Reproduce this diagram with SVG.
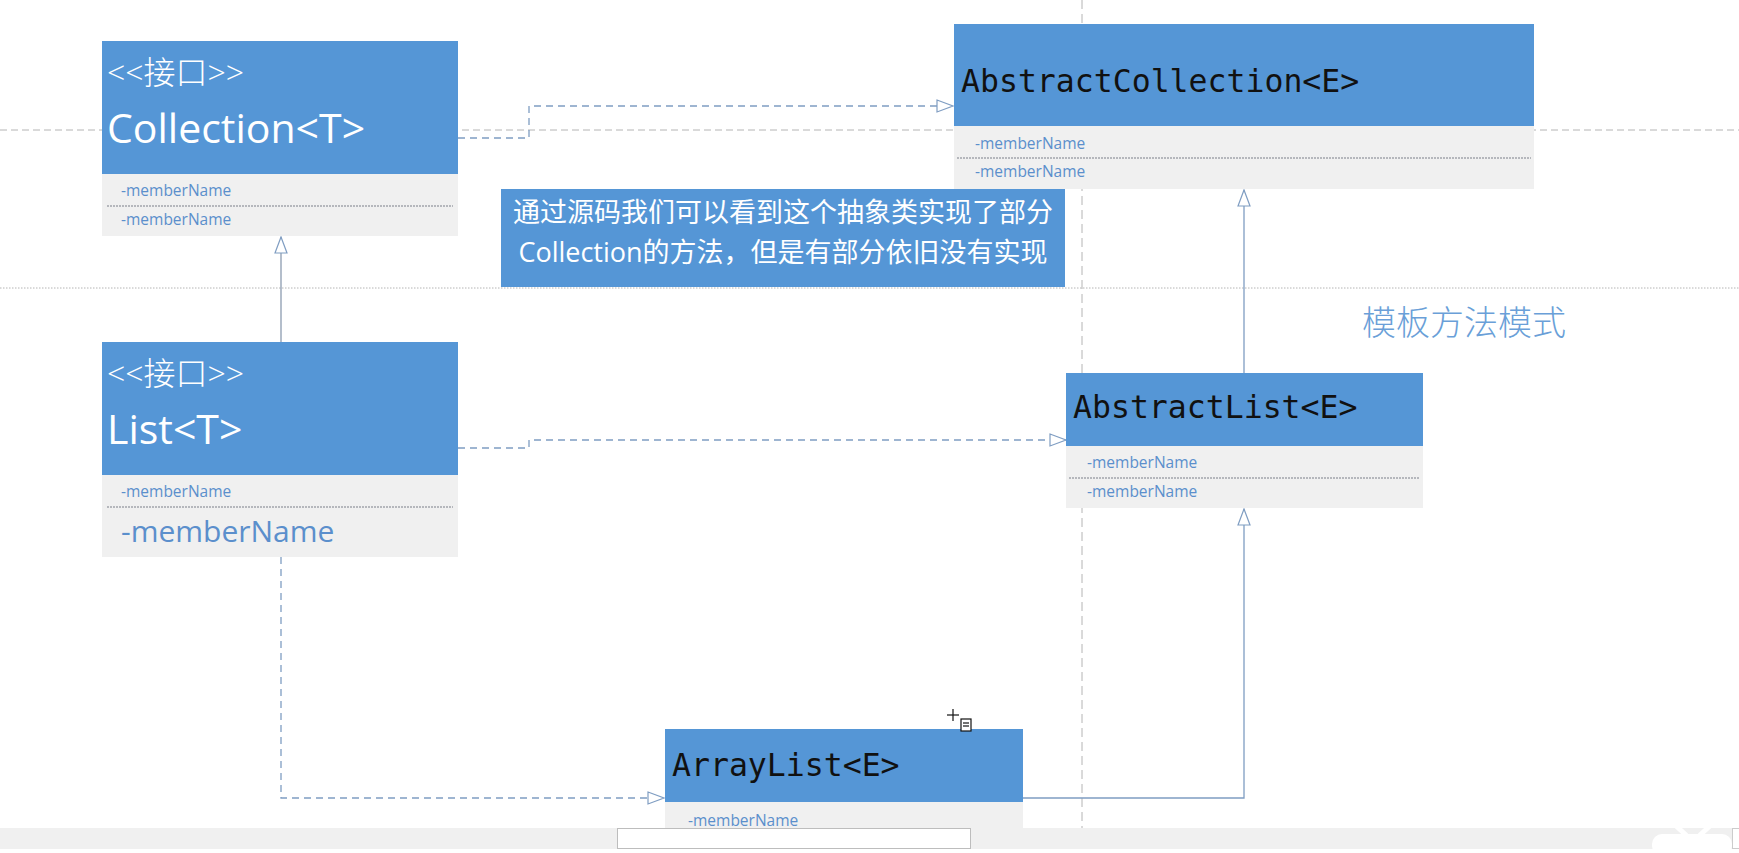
<svg xmlns="http://www.w3.org/2000/svg" width="1739" height="853" viewBox="0 0 1739 853">
<style>
.hdr{fill:#5596d6}
.cmp{fill:#f0f0f0}
.sep{stroke:#7a7f88;stroke-width:1;stroke-dasharray:2 1}
.mem{font-family:"Open Sans","Liberation Sans",sans-serif;font-size:15.5px;fill:#5b8fcc}
.big{font-size:30px}
.ttl{font-family:"Open Sans","Noto Sans CJK SC",sans-serif;font-size:41px;fill:#ffffff}
.ster{font-family:"Open Sans","Noto Sans CJK SC",sans-serif;font-size:32px;font-weight:300;fill:#ffffff}
.mono{font-family:"DejaVu Sans Mono","Liberation Mono",monospace;font-size:31.5px;fill:#111111}
.note{font-family:"Open Sans","Noto Sans CJK SC",sans-serif;font-size:27px;fill:#ffffff;text-anchor:middle}
.dash{fill:none;stroke:#7f9dc2;stroke-width:1.3;stroke-dasharray:7 5}
.solid{fill:none;stroke:#7f9dc2;stroke-width:1.3}
.bg{fill:none;stroke:#b4b4b4;stroke-width:1}
</style>
<defs>
<marker id="tri" markerUnits="userSpaceOnUse" markerWidth="20" markerHeight="16" refX="17" refY="7" orient="auto">
<path d="M1,1 L17,7 L1,13 Z" fill="#ffffff" stroke="#7f9dc2" stroke-width="1.2"/>
</marker>
</defs>
<rect width="1739" height="853" fill="#ffffff"/>
<g id="background">
<line class="bg" x1="0" y1="130" x2="1739" y2="130" stroke-dasharray="7 4"/>
<line class="bg" x1="0" y1="288" x2="1739" y2="288" stroke-dasharray="1.5 1.5"/>
<line class="bg" x1="1082" y1="0" x2="1082" y2="828" stroke-dasharray="9 5"/>
</g>
<g id="connectors">
<polyline class="dash" points="458,138 529,138 529,106 953,106" marker-end="url(#tri)"/>
<polyline class="dash" points="458,448 529,448 529,440 1066,440" marker-end="url(#tri)"/>
<line class="solid" x1="281" y1="342" x2="281" y2="237" style="stroke:#8c9bb0" marker-end="url(#tri)"/>
<polyline class="dash" points="281,557 281,798 664,798" marker-end="url(#tri)"/>
<polyline class="solid" points="1023,798 1244,798 1244,509" marker-end="url(#tri)"/>
<line class="solid" x1="1244" y1="373" x2="1244" y2="190" marker-end="url(#tri)"/>
</g>
<g id="collection">
<rect class="cmp" x="102" y="174" width="356" height="62"/>
<rect class="hdr" x="102" y="41" width="356" height="133"/>
<text class="ster" x="107" y="84">&lt;&lt;接口&gt;&gt;</text>
<text class="ttl" x="107" y="143">Collection&lt;T&gt;</text>
<text class="mem" x="121" y="196">-memberName</text>
<line class="sep" x1="107" y1="206" x2="453" y2="206"/>
<text class="mem" x="121" y="225">-memberName</text>
</g>
<g id="list">
<rect class="cmp" x="102" y="475" width="356" height="82"/>
<rect class="hdr" x="102" y="342" width="356" height="133"/>
<text class="ster" x="107" y="385">&lt;&lt;接口&gt;&gt;</text>
<text class="ttl" x="107" y="444">List&lt;T&gt;</text>
<text class="mem" x="121" y="497">-memberName</text>
<line class="sep" x1="107" y1="507" x2="453" y2="507"/>
<text class="mem big" x="121" y="542">-memberName</text>
</g>
<g id="abstractCollection">
<rect class="cmp" x="954" y="126" width="580" height="63"/>
<rect class="hdr" x="954" y="24" width="580" height="102"/>
<text class="mono" x="961" y="92">AbstractCollection&lt;E&gt;</text>
<text class="mem" x="975" y="149">-memberName</text>
<line class="sep" x1="957" y1="158" x2="1531" y2="158"/>
<text class="mem" x="975" y="177">-memberName</text>
</g>
<g id="note">
<rect class="hdr" x="501" y="189" width="564" height="98"/>
<text class="note" x="783" y="222">通过源码我们可以看到这个抽象类实现了部分</text>
<text class="note" x="783" y="262">Collection的方法，但是有部分依旧没有实现</text>
</g>
<g id="label">
<text x="1362" y="335" font-family="'Noto Sans CJK SC',sans-serif" font-size="34" font-weight="300" fill="#6a9fd8">模板方法模式</text>
</g>
<g id="abstractList">
<rect class="cmp" x="1066" y="446" width="357" height="62"/>
<rect class="hdr" x="1066" y="373" width="357" height="73"/>
<text class="mono" x="1073" y="418">AbstractList&lt;E&gt;</text>
<text class="mem" x="1087" y="468">-memberName</text>
<line class="sep" x1="1069" y1="478" x2="1419" y2="478"/>
<text class="mem" x="1087" y="497">-memberName</text>
</g>
<g id="arrayList">
<rect class="cmp" x="665" y="802" width="358" height="26"/>
<rect class="hdr" x="665" y="729" width="358" height="73"/>
<text class="mono" x="672" y="776">ArrayList&lt;E&gt;</text>
<text class="mem" x="688" y="826">-memberName</text>
</g>
<g id="cursor" stroke="#111111" stroke-width="1.2" fill="none">
<line x1="947" y1="715" x2="959" y2="715"/>
<line x1="953" y1="709" x2="953" y2="721"/>
<rect x="961" y="719" width="10" height="12" fill="#ffffff"/>
<line x1="963" y1="723" x2="969" y2="723"/>
<line x1="963" y1="726" x2="969" y2="726"/>
</g>
<g id="bottombar">
<rect x="0" y="828" width="1739" height="21" fill="#f0f0f0"/>
<rect x="617.5" y="828.5" width="353" height="20" fill="#ffffff" stroke="#bdbdbd"/>
<rect x="1652" y="834" width="80" height="22" rx="10" fill="#ffffff"/>
<line x1="1675" y1="825" x2="1686" y2="835" stroke="#ffffff" stroke-width="5" stroke-linecap="round"/>
<line x1="1711" y1="825" x2="1700" y2="835" stroke="#ffffff" stroke-width="5" stroke-linecap="round"/>
<rect x="1732.5" y="828.5" width="8" height="20" fill="#ffffff" stroke="#cccccc"/>
</g>
</svg>
